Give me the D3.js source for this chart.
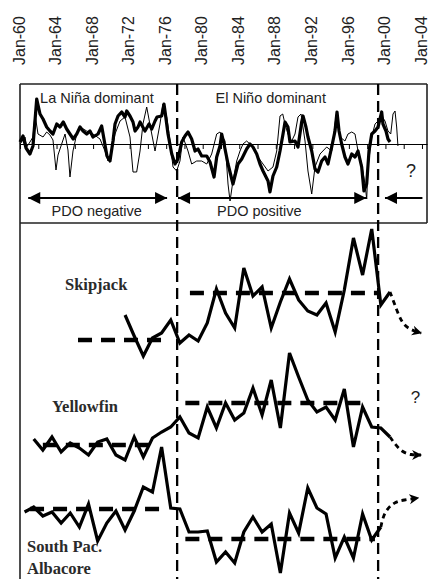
<!DOCTYPE html>
<html>
<head>
<meta charset="utf-8">
<script src="https://cdn.jsdelivr.net/npm/d3@7"></script>
<style>
  html, body { margin: 0; padding: 0; background: #fff; }
  svg { display: block; }
</style>
</head>
<body>
<svg id="chart" width="429" height="579"></svg>
<script>
// ---- data ----
const tickYears = [1960, 1964, 1968, 1972, 1976, 1980, 1984, 1988, 1992, 1996, 2000, 2004];
const zeroTickYears = [1960, 1962, 1964, 1966, 1968, 1970, 1972, 1974, 1976, 1978, 1980, 1982,
    1984, 1986, 1988, 1990, 1992, 1994, 1996, 1998, 2000, 2002, 2004];
const regimeShifts = [1977.2, 1999.2];

// ENSO index, thick line: [decimal year, value]
const ensoIndex = [
    [1960.00, 0.10], [1960.33, 0.40], [1960.66, -0.20], [1961.09, -0.50], [1961.42, -0.10],
    [1961.83, 2.25], [1962.19, 1.50], [1962.52, 1.25], [1962.92, 0.85], [1963.28, 0.65],
    [1963.61, 0.50], [1964.02, 1.00], [1964.38, 0.85], [1964.74, 1.10], [1965.11, 0.75],
    [1965.47, 0.50], [1965.83, 0.25], [1966.21, 0.50], [1966.57, 0.85], [1966.90, 0.65],
    [1967.30, 0.50], [1967.66, 0.65], [1967.99, 0.35], [1968.54, 0.50], [1968.94, 0.90],
    [1969.52, -0.60], [1969.85, -0.85], [1970.18, 0.15], [1970.40, 1.00], [1970.73, 1.40],
    [1971.13, 1.60], [1971.49, 1.35], [1971.68, 1.65], [1972.04, 1.40], [1972.37, 1.10],
    [1972.59, 0.65], [1972.92, 0.85], [1973.14, 1.10], [1973.68, 0.65], [1974.12, 1.00],
    [1974.42, 0.75], [1974.78, 1.15], [1975.00, 1.35], [1975.51, 1.40], [1975.76, 2.00],
    [1975.87, 1.65], [1976.20, 0.50], [1976.61, -0.50], [1976.97, -1.00], [1977.29, -0.75],
    [1977.70, 0.10], [1978.06, 0.40], [1978.39, 0.60], [1978.79, 0.25], [1979.16, -0.35],
    [1979.48, -0.25], [1979.89, -0.60], [1980.44, -0.60], [1980.80, -0.90], [1981.24, -1.65],
    [1981.53, -0.65], [1981.89, -0.10], [1982.08, 0.50], [1982.33, 0.00], [1982.77, -1.00],
    [1983.31, -2.00], [1983.86, -1.00], [1984.27, -0.75], [1984.81, -0.25], [1985.18, 0.00],
    [1985.50, -0.15], [1985.91, -0.50], [1986.27, -1.00], [1986.60, -1.35], [1987.15, -1.85],
    [1987.36, -2.40], [1987.69, -1.60], [1988.10, -1.15], [1988.46, -0.35], [1988.79, 0.50],
    [1989.01, 1.10], [1989.33, 0.85], [1989.55, 0.10], [1990.10, 0.15], [1990.43, -0.15],
    [1990.83, 1.10], [1990.98, 1.40], [1991.30, 0.85], [1991.52, 0.35], [1991.93, -0.35],
    [1992.29, -1.25], [1992.62, -1.40], [1993.02, -0.85], [1993.39, -0.65], [1993.71, -1.00],
    [1994.12, -0.15], [1994.48, 0.65], [1994.70, 1.60], [1994.92, 0.65], [1995.21, 0.00],
    [1995.57, -0.65], [1995.90, -1.00], [1996.31, -0.50], [1996.67, -0.65], [1997.00, -0.35],
    [1997.40, -1.15], [1997.65, -2.35], [1997.95, -2.00], [1998.20, -0.35], [1998.50, 0.50],
    [1998.86, 0.65], [1999.19, 0.85], [1999.59, 1.60], [1999.73, 1.00], [2000.06, 0.65],
    [2000.28, 0.25], [2000.50, 0.10]
];

// PDO index, thin line: [decimal year, value]
const pdoIndex = [
    [1960.00, 0.00], [1960.55, 0.35], [1960.73, -0.15], [1961.09, 0.10], [1961.42, 0.35],
    [1961.64, 1.50], [1961.97, 0.50], [1962.52, 0.35], [1962.92, 0.60], [1963.28, 0.45],
    [1963.61, 0.20], [1963.83, -0.80], [1963.94, -1.30], [1964.16, -0.55], [1964.56, 0.00],
    [1964.93, 0.50], [1965.25, -0.30], [1965.47, -1.65], [1965.80, -0.35], [1966.21, 0.50],
    [1966.57, 0.85], [1967.30, 0.65], [1967.99, 0.50], [1968.76, 0.25], [1969.30, -0.35],
    [1969.63, -0.85], [1970.07, -0.30], [1970.40, 0.50], [1970.95, 1.15], [1971.49, 1.35],
    [1972.04, 0.35], [1972.37, -1.40], [1972.77, -1.40], [1973.14, -0.35], [1973.46, 1.00],
    [1973.87, 1.85], [1974.42, 0.50], [1974.78, -0.35], [1975.32, 1.00], [1975.65, 2.00],
    [1976.06, 1.35], [1976.42, 0.15], [1976.75, -1.15], [1977.15, -1.35], [1977.51, -0.85],
    [1977.84, 0.35], [1978.39, -0.35], [1978.79, -1.00], [1979.34, -0.85], [1979.89, -0.85],
    [1980.44, -1.00], [1980.98, -0.50], [1981.53, 0.50], [1981.89, 0.60], [1982.44, 0.15],
    [1982.77, -2.00], [1982.99, -2.85], [1983.31, -1.85], [1983.72, -0.85], [1984.08, -0.35],
    [1984.41, 0.00], [1984.81, 0.15], [1985.50, -0.15], [1986.05, -0.65], [1986.60, -1.00],
    [1987.15, -1.35], [1987.69, -1.15], [1988.10, -0.35], [1988.46, 1.40], [1988.76, 1.50],
    [1989.01, 1.00], [1989.33, 0.50], [1989.74, 0.15], [1990.10, 0.50], [1990.43, 1.35],
    [1990.76, 1.50], [1991.20, 0.15], [1991.52, -1.35], [1991.93, -2.50], [1992.29, -1.15],
    [1992.84, -0.50], [1993.57, -0.15], [1994.12, -0.35], [1994.48, 1.00], [1994.67, 1.60],
    [1995.03, 0.35], [1995.57, 0.15], [1995.90, 0.50], [1996.31, 0.60], [1996.67, 0.50],
    [1997.00, -0.35], [1997.40, -1.00], [1997.76, -2.00], [1997.95, -2.75], [1998.09, -1.15],
    [1998.50, 0.35], [1998.86, 1.00], [1999.19, 1.15], [1999.59, 1.40], [1999.95, 1.15],
    [2000.28, 0.65], [2000.58, 0.50], [2000.83, 1.50], [2001.05, 1.65], [2001.23, 0.85],
    [2001.37, -0.10]
];

const pdoPhases = [
    { label: 'PDO negative', from: 1960.9, to: 1976.1, labelAt: 1968.4 },
    { label: 'PDO positive', from: 1977.3, to: 1997.9, labelAt: 1986.2 }
];
const ensoLabels = [
    { label: 'La Niña dominant', at: 1962.2 },
    { label: 'El Niño dominant', at: 1981.4 }
];

// catch series, annual relative index
const skipjackYears = d3.range(1971, 2001);
const skipjackValues = [2.5, 0.4, -1.6, 0.2, 0.7, 2.0, -0.3, 0.5, -0.1, 1.7,
    5.1, 2.7, 1.2, 7.2, 4.4, 5.3, 1.2, 3.8, 6.1, 4.0,
    2.9, 2.5, 3.7, 0.8, 5.0, 10.2, 6.5, 11.1, 3.5, 4.8];
const yellowfinYears = d3.range(1961, 2001);
const yellowfinValues = [0.6, -0.5, 0.8, -0.7, 0.2, -0.3, -1.0, 0.3, 0.6, -1.0,
    -1.5, 0.8, -1.2, 0.7, 1.3, 1.8, 2.8, 1.2, 0.7, 3.8,
    1.7, 4.2, 2.5, 3.2, 5.7, 3.0, 6.5, 1.7, 9.2, 6.8,
    4.5, 3.3, 3.8, 2.5, 5.6, -0.2, 3.8, 1.8, 1.7, 0.8];
const albacoreYears = d3.range(1960, 2000);
const albacoreValues = [-0.3, 0.2, -0.7, -0.3, -1.4, -0.4, -1.8, 0.5, -3.2, -1.4,
    -0.2, -2.1, -0.2, 2.2, 1.7, 6.2, 0.1, 0.0, -2.3, -2.3,
    -2.2, -5.3, -4.3, -5.4, -2.3, -0.8, -2.3, -1.5, -6.4, -0.4,
    -2.4, 2.1, 0.1, -0.5, -4.9, -2.8, -4.9, -0.5, -3.1, -1.8];

// regime means: [from, to, value]
const skipjackMeans = [[1966.35, 1975.65, 0], [1978.6, 1999.2, 4.7]];
const yellowfinMeans = [[1962.5, 1975.0, 0], [1978.1, 1997.8, 4.2]];
const albacoreMeans = [[1961.1, 1975.65, 0], [1978.1, 1998.85, -3.0]];

// projected trends (dashed arrows)
const skipjackTrend = [[2000.5, 4.8], [2001.0, 3.6], [2001.8, 1.6], [2002.8, 1.0], [2003.9, 0.7]];
const yellowfinTrend = [[2000.5, 0.8], [2000.95, 0.2], [2001.8, -0.7], [2002.8, -1.0], [2003.9, -1.0]];
const albacoreTrend = [[1999.5, -1.8], [1999.85, -0.3], [2000.95, 0.7], [2002.0, 0.9], [2003.6, 1.1]];

// ---- layout ----
const svg = d3.select('#chart');
const left = 20, right = 427, boxTop = 84, boxBottom = 223, H = 579;
const sans = 'Liberation Sans, Arial, sans-serif';
const serif = 'Liberation Serif, Times New Roman, serif';

const x = d3.scaleLinear().domain([1960, 2004.55]).range([left, right]);
const yTop = d3.scaleLinear().domain([-3, 3]).range([204, 84]);

// arrow markers
const defs = svg.append('defs');
defs.append('marker')
    .attr('id', 'head')
    .attr('viewBox', '0 0 10 10')
    .attr('refX', 10).attr('refY', 5)
    .attr('markerWidth', 15).attr('markerHeight', 12)
    .attr('markerUnits', 'userSpaceOnUse')
    .attr('orient', 'auto-start-reverse')
    .append('path').attr('d', 'M0,0 L10,5 L0,10 z').attr('fill', '#000');
defs.append('marker')
    .attr('id', 'smallHead')
    .attr('viewBox', '0 0 10 10')
    .attr('refX', 9).attr('refY', 5)
    .attr('markerWidth', 10).attr('markerHeight', 11)
    .attr('markerUnits', 'userSpaceOnUse')
    .attr('orient', 'auto')
    .append('path').attr('d', 'M0,0 L10,5 L0,10 L3,5 z').attr('fill', '#000');

// year labels on top
const axisG = svg.append('g')
    .attr('transform', 'translate(0,65)')
    .call(d3.axisTop(x).tickValues(tickYears).tickSize(0)
        .tickFormat(d => 'Jan-' + String(d % 100).padStart(2, '0')));
axisG.select('.domain').remove();
axisG.selectAll('text')
    .attr('x', 0).attr('y', 0).attr('dy', '0.26em')
    .attr('text-anchor', 'start')
    .attr('transform', 'rotate(-90)')
    .attr('font-family', sans)
    .attr('font-size', 16)
    .attr('fill', '#222');

// frame
const frame = svg.append('g').attr('stroke', '#222').attr('stroke-width', 1.6).attr('fill', 'none');
frame.append('line').attr('x1', left).attr('x2', right).attr('y1', boxTop).attr('y2', boxTop);
frame.append('line').attr('x1', left).attr('x2', right).attr('y1', boxBottom).attr('y2', boxBottom);
frame.append('line').attr('x1', right).attr('x2', right).attr('y1', boxTop).attr('y2', boxBottom);
frame.append('line').attr('x1', left).attr('x2', left).attr('y1', boxTop).attr('y2', H);

// zero line with year ticks
const zeroG = svg.append('g')
    .attr('transform', `translate(0,${yTop(0)})`)
    .call(d3.axisBottom(x).tickValues(zeroTickYears).tickSize(5).tickSizeOuter(0).tickFormat(''));
zeroG.selectAll('path, line').attr('stroke', '#000').attr('stroke-width', 1);

// index lines
const topLine = d3.line().x(d => x(d[0])).y(d => yTop(d[1]));
svg.append('path').datum(pdoIndex)
    .attr('d', topLine).attr('fill', 'none').attr('stroke', '#000').attr('stroke-width', 1);
svg.append('path').datum(ensoIndex)
    .attr('d', topLine).attr('fill', 'none').attr('stroke', '#000').attr('stroke-width', 3.2)
    .attr('stroke-linejoin', 'round');

// ENSO labels
svg.selectAll('.enso').data(ensoLabels).join('text')
    .attr('x', d => x(d.at)).attr('y', 103)
    .attr('font-family', sans).attr('font-size', 14.5).attr('fill', '#222')
    .text(d => d.label);

// PDO arrows
const arrowY = 198;
svg.selectAll('.pdo').data(pdoPhases).join('line')
    .attr('x1', d => x(d.from)).attr('x2', d => x(d.to))
    .attr('y1', arrowY).attr('y2', arrowY)
    .attr('stroke', '#000').attr('stroke-width', 2)
    .attr('marker-start', 'url(#head)').attr('marker-end', 'url(#head)');
svg.selectAll('.pdoLabel').data(pdoPhases).join('text')
    .attr('x', d => x(d.labelAt)).attr('y', 216)
    .attr('text-anchor', 'middle')
    .attr('font-family', sans).attr('font-size', 14.5).attr('fill', '#222')
    .text(d => d.label);
svg.append('line')
    .attr('x1', x(2004.05)).attr('x2', x(1999.95))
    .attr('y1', arrowY).attr('y2', arrowY)
    .attr('stroke', '#000').attr('stroke-width', 2)
    .attr('marker-end', 'url(#head)');
svg.append('text')
    .attr('x', x(2002.8)).attr('y', 177)
    .attr('text-anchor', 'middle')
    .attr('font-family', sans).attr('font-size', 18).attr('fill', '#222')
    .text('?');

// regime shift lines
svg.selectAll('.shift').data(regimeShifts).join('line')
    .attr('x1', d => x(d)).attr('x2', d => x(d))
    .attr('y1', boxTop).attr('y2', H)
    .attr('stroke', '#000').attr('stroke-width', 2.3)
    .attr('stroke-dasharray', '11,6');

// ---- catch panels ----
const species = [
    { label: ['Skipjack'], labelX: 65, labelY: 290, base: 340,
      years: skipjackYears, values: skipjackValues, means: skipjackMeans, trend: skipjackTrend },
    { label: ['Yellowfin'], labelX: 52, labelY: 412, base: 445,
      years: yellowfinYears, values: yellowfinValues, means: yellowfinMeans, trend: yellowfinTrend },
    { label: ['South Pac.', 'Albacore'], labelX: 27, labelY: 552, base: 509,
      years: albacoreYears, values: albacoreValues, means: albacoreMeans, trend: albacoreTrend }
];

species.forEach(sp => {
    const y = d3.scaleLinear().domain([0, 1]).range([sp.base, sp.base - 10]);
    const g = svg.append('g');

    // regime means
    g.selectAll('line').data(sp.means).join('line')
        .attr('x1', d => x(d[0])).attr('x2', d => x(d[1]))
        .attr('y1', d => y(d[2])).attr('y2', d => y(d[2]))
        .attr('stroke', '#000').attr('stroke-width', 4.5)
        .attr('stroke-dasharray', '14,9');

    // annual series
    const pts = sp.years.map((yr, i) => [yr + 0.5, sp.values[i]]);
    g.append('path').datum(pts)
        .attr('d', d3.line().x(d => x(d[0])).y(d => y(d[1])))
        .attr('fill', 'none').attr('stroke', '#000').attr('stroke-width', 3.2)
        .attr('stroke-linejoin', 'miter');

    // projected trend
    g.append('path').datum(sp.trend)
        .attr('d', d3.line().x(d => x(d[0])).y(d => y(d[1])).curve(d3.curveBasis))
        .attr('fill', 'none').attr('stroke', '#000').attr('stroke-width', 2.8)
        .attr('stroke-dasharray', '5,4')
        .attr('marker-end', 'url(#smallHead)');

    // label
    const t = g.append('text')
        .attr('font-family', serif).attr('font-weight', 'bold')
        .attr('font-size', 16.5).attr('fill', '#2a2a2a');
    sp.label.forEach((l, i) => {
        t.append('tspan').attr('x', sp.labelX).attr('y', sp.labelY + i * 22).text(l);
    });
});

svg.append('text')
    .attr('x', x(2003.3)).attr('y', 403)
    .attr('text-anchor', 'middle')
    .attr('font-family', sans).attr('font-size', 17).attr('fill', '#222')
    .text('?');
</script>
</body>
</html>
